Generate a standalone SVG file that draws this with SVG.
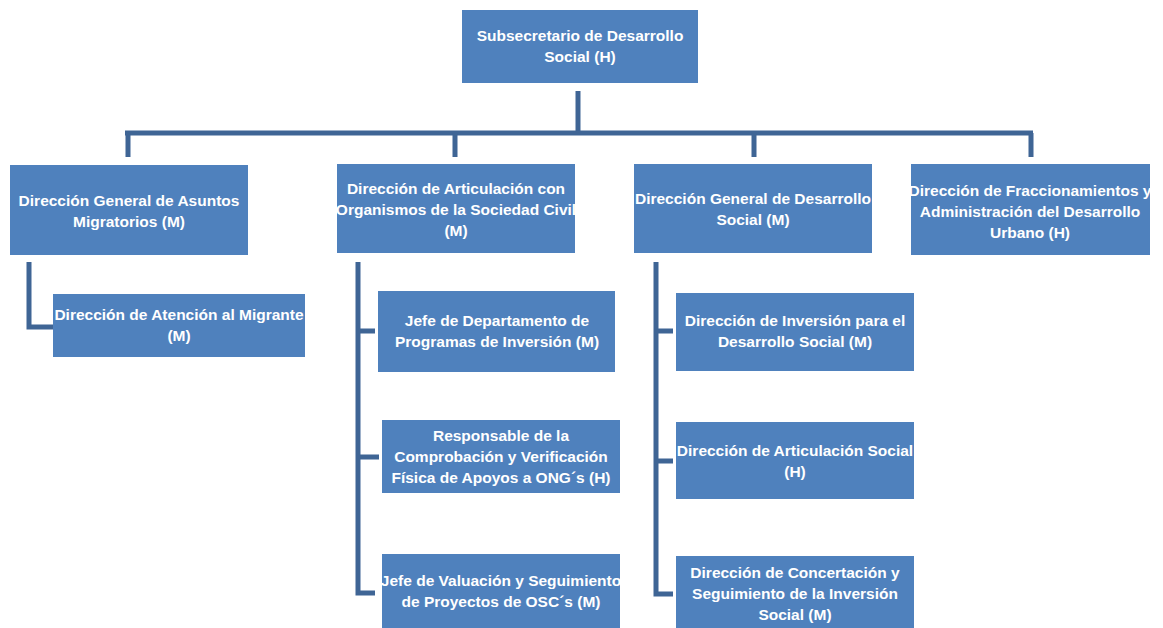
<svg xmlns="http://www.w3.org/2000/svg" width="1163" height="628" viewBox="0 0 1163 628">
<style>
.box{fill:#4F81BD}
.t{font-family:"Liberation Sans",Arial,sans-serif;font-size:15.5px;font-weight:bold;fill:#ffffff;text-anchor:middle}
.c{stroke:#3F6595;stroke-width:5;fill:none}
</style>
<rect width="1163" height="628" fill="#ffffff"/>
<g id="connectors">
<path class="c" d="M578 91V133"/>
<path class="c" d="M125 133H1033"/>
<path class="c" d="M128 133V157M455 133V157M754 133V157M1031 133V157"/>
<path class="c" d="M29 262V327H53"/>
<path class="c" d="M358 262V593H375M358 331H375M358 457H379"/>
<path class="c" d="M656 262V594H673M656 331H673M656 461H673"/>
</g>
<g id="n0"><rect class="box" x="462" y="10" width="236" height="73"/><text class="t" x="580" y="41">Subsecretario de Desarrollo</text><text class="t" x="580" y="62">Social (H)</text></g>
<g id="n1"><rect class="box" x="10" y="165" width="238" height="90"/><text class="t" x="129" y="206">Dirección General de Asuntos</text><text class="t" x="129" y="227">Migratorios (M)</text></g>
<g id="n2"><rect class="box" x="337" y="164" width="238" height="89"/><text class="t" x="456" y="194">Dirección de Articulación con</text><text class="t" x="456" y="215">Organismos de la Sociedad Civil</text><text class="t" x="456" y="236">(M)</text></g>
<g id="n3"><rect class="box" x="634" y="164" width="238" height="89"/><text class="t" x="753" y="204">Dirección General de Desarrollo</text><text class="t" x="753" y="225">Social (M)</text></g>
<g id="n4"><rect class="box" x="911" y="164" width="239" height="91"/><text class="t" x="1030" y="196">Dirección de Fraccionamientos y</text><text class="t" x="1030" y="217">Administración del Desarrollo</text><text class="t" x="1030" y="238">Urbano (H)</text></g>
<g id="n5"><rect class="box" x="53" y="294" width="252" height="63"/><text class="t" x="179" y="320">Dirección de Atención al Migrante</text><text class="t" x="179" y="341">(M)</text></g>
<g id="n6"><rect class="box" x="378" y="291" width="237" height="81"/><text class="t" x="497" y="326">Jefe de Departamento de</text><text class="t" x="497" y="347">Programas de Inversión (M)</text></g>
<g id="n7"><rect class="box" x="382" y="420" width="238" height="73"/><text class="t" x="501" y="441">Responsable de la</text><text class="t" x="501" y="462">Comprobación  y Verificación</text><text class="t" x="501" y="483">Física de Apoyos a ONG´s (H)</text></g>
<g id="n8"><rect class="box" x="382" y="554" width="238" height="74"/><text class="t" x="501" y="586">Jefe de Valuación y Seguimiento</text><text class="t" x="501" y="607">de Proyectos de OSC´s  (M)</text></g>
<g id="n9"><rect class="box" x="676" y="293" width="238" height="78"/><text class="t" x="795" y="326">Dirección de Inversión para el</text><text class="t" x="795" y="347">Desarrollo Social  (M)</text></g>
<g id="n10"><rect class="box" x="676" y="422" width="238" height="77"/><text class="t" x="795" y="456">Dirección de Articulación Social</text><text class="t" x="795" y="477">(H)</text></g>
<g id="n11"><rect class="box" x="676" y="556" width="238" height="72"/><text class="t" x="795" y="578">Dirección de Concertación y</text><text class="t" x="795" y="599">Seguimiento de la Inversión</text><text class="t" x="795" y="620">Social (M)</text></g>
</svg>
